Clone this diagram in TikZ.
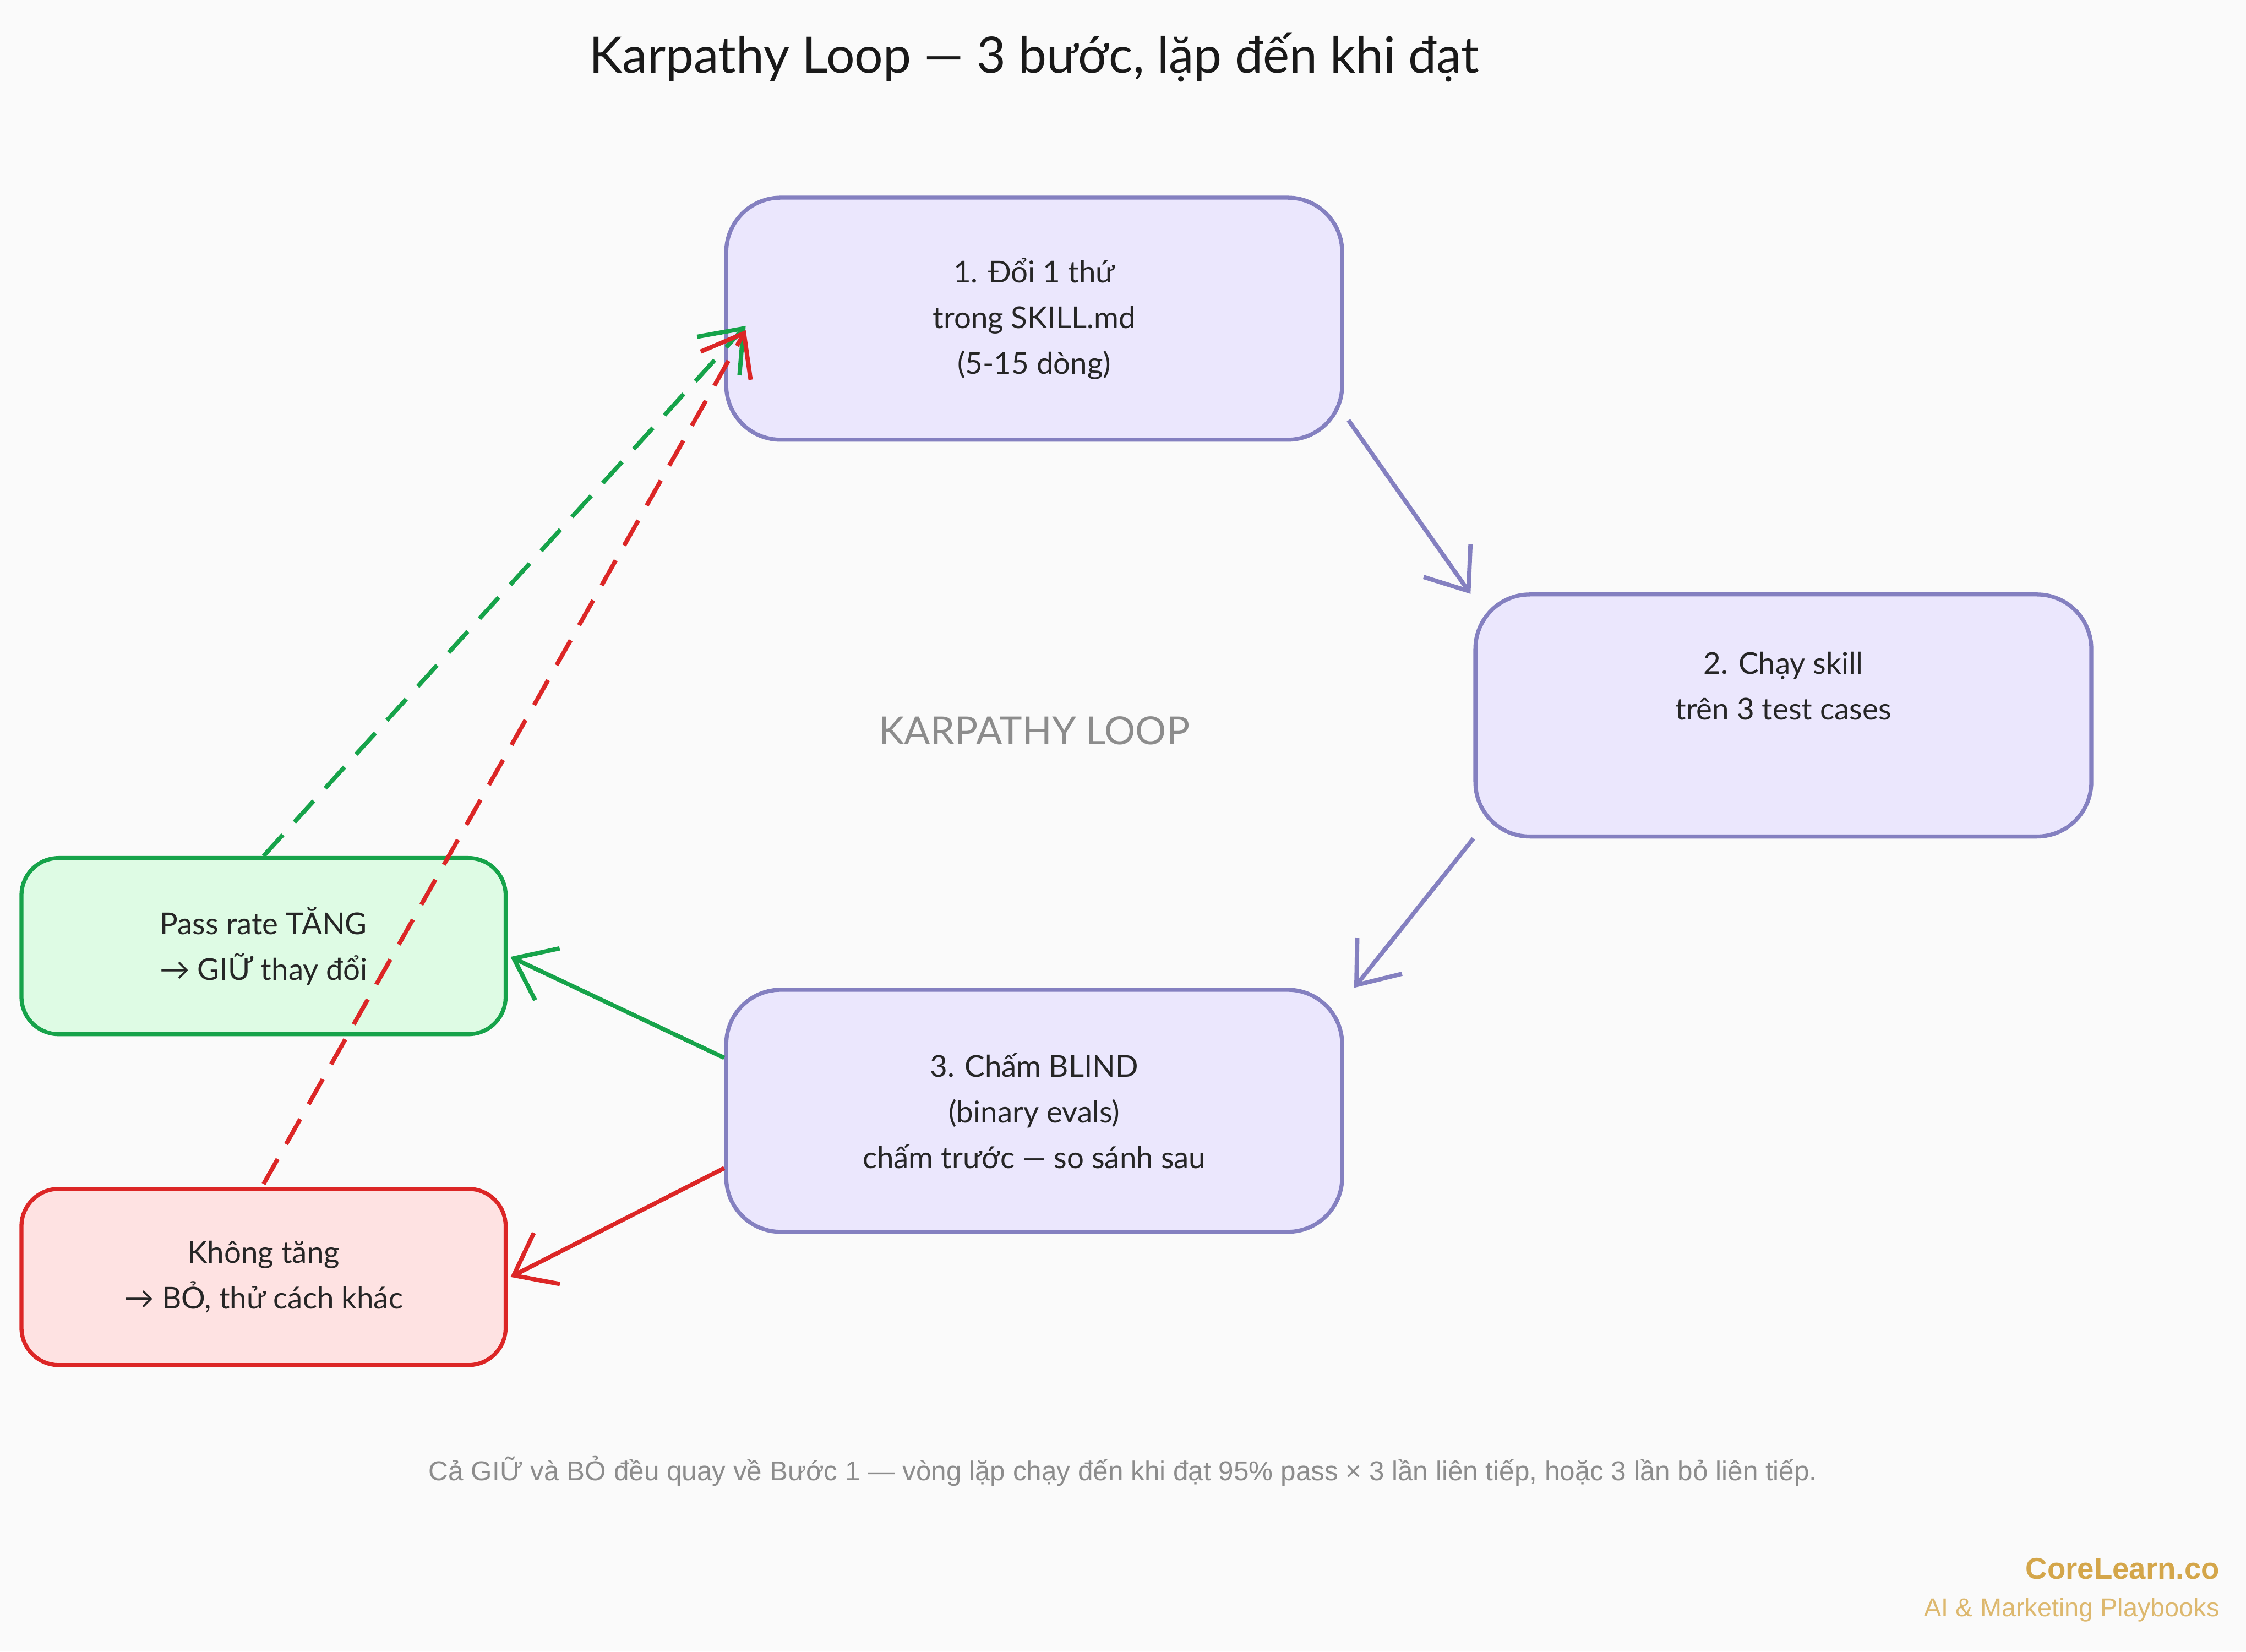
\documentclass[tikz,border=0pt]{standalone}
\usepackage{fontspec}
\setmainfont{Lato}
\newfontfamily\foot{Liberation Sans}
\usetikzlibrary{arrows.meta}
\definecolor{bg}{HTML}{FAFAFA}
\definecolor{lavf}{HTML}{EBE7FD}
\definecolor{lavd}{HTML}{8480C0}
\definecolor{grf}{HTML}{DEFBE4}
\definecolor{grd}{HTML}{16A34A}
\definecolor{rdf}{HTML}{FEE2E2}
\definecolor{rdd}{HTML}{DC2626}
\definecolor{gold}{HTML}{D4A64A}
\begin{document}
\begin{tikzpicture}[x=1pt,y=-1pt,
  box/.style={draw=lavd,fill=lavf,line width=2.8pt,rounded corners=38pt,minimum width=430pt,minimum height=169pt,align=center,font=\fontsize{21}{32}\selectfont,text=black!85},
  gbox/.style={draw=grd,fill=grf,line width=2.8pt,rounded corners=26pt,minimum width=338pt,minimum height=123pt,align=center,font=\fontsize{21}{32}\selectfont,text=black!85},
  rbox/.style={gbox,draw=rdd,fill=rdf},
  arr/.style={line width=3pt,-{Straight Barb[length=26pt,width=40pt,line width=3pt]}},
  dashed arr/.style={arr,dash pattern=on 20pt off 12pt}]
\fill[bg] (0,0) rectangle (1568,1153);
\node[font=\fontsize{35}{40}\selectfont,text=black!90] (title) at (722,40) {Karpathy Loop — 3 bước, lặp đến khi đạt};
\node[box] (b1) at (722,222.5) {1. Đổi 1 thứ\\trong SKILL.md\\(5-15 dòng)};
\node[box] (b2) at (1245,499.5) {2. Chạy skill\\trên 3 test cases\\\strut};
\node[box] (b3) at (722,775.5) {3. Chấm BLIND\\(binary evals)\\chấm trước — so sánh sau};
\node[gbox] (g) at (184,660.5) {Pass rate TĂNG\\→ GIỮ thay đổi};
\node[rbox] (r) at (184,891.5) {Không tăng\\→ BỎ, thử cách khác};
\node[font=\fontsize{27}{30}\selectfont,text=black!45] (lbl) at (722,510) {KARPATHY LOOP};
\node[font=\foot\fontsize{19}{20}\selectfont,text=black!45] (note) at (784,1027) {Cả GIỮ và BỎ đều quay về Bước 1 — vòng lặp chạy đến khi đạt 95\% pass × 3 lần liên tiếp, hoặc 3 lần bỏ liên tiếp.};
\node[anchor=east,font=\foot\bfseries\fontsize{21}{24}\selectfont,text=gold] (brand) at (1553,1095) {CoreLearn.co};
\node[anchor=east,font=\foot\fontsize{18}{20}\selectfont,text=gold!80] (tag) at (1553,1124) {AI \& Marketing Playbooks};
\draw[arr,lavd] ([shift={(3,-15)}]b1.south east) -- ([shift={(-2,1)}]b2.north west);
\draw[arr,lavd] (b2.south west) -- ([shift={(7,0)}]b3.north east);
\draw[arr,grd] ([shift={(0,-37)}]b3.west) -- ([shift={(2,7.5)}]g.east);
\draw[arr,rdd] ([shift={(0,40)}]b3.west) -- ([shift={(2,0)}]r.east);
\draw[dashed arr,grd] (g.north) -- ([shift={(15,5)}]b1.west);
\draw[dashed arr,rdd] ([shift={(0,-2)}]r.north) -- ([shift={(15,8)}]b1.west);
\end{tikzpicture}
\end{document}
